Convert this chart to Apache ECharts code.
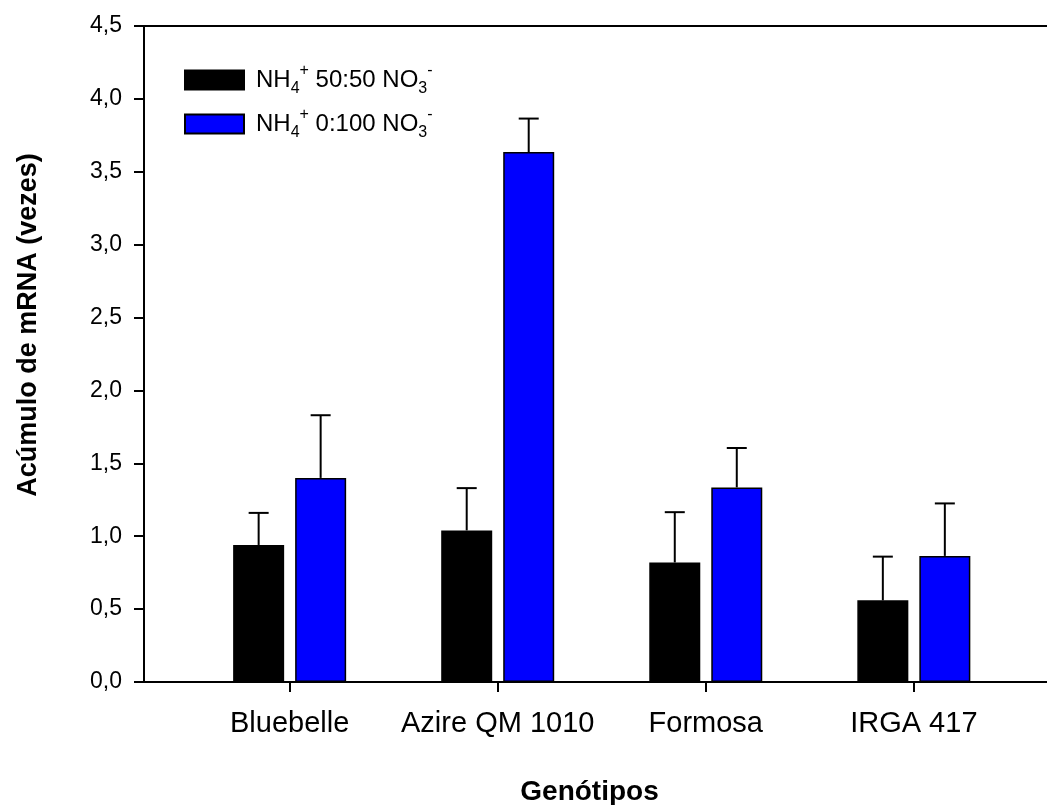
<!DOCTYPE html>
<html>
<head>
<meta charset="utf-8">
<script src="https://cdn.jsdelivr.net/npm/echarts@6/dist/echarts.min.js"></script>
<style>
  html, body { margin: 0; padding: 0; background: #fff; }
  #chart { width: 1047px; height: 805px; }
</style>
</head>
<body>
<div id="chart"></div>
<script>
// Genotypes along the x axis
const genotypes = ['Bluebelle', 'Azire QM 1010', 'Formosa', 'IRGA 417'];

// Series names (legend entries)
const seriesNames = ['NH4+ 50:50 NO3-', 'NH4+ 0:100 NO3-'];

// mRNA accumulation (fold change) and its standard error, per genotype
const ratio5050 = [0.94, 1.04, 0.82, 0.56];
const err5050   = [0.22, 0.29, 0.345, 0.30];
const ratio0100 = [1.40, 3.635, 1.335, 0.865];
const err0100   = [0.43, 0.23, 0.27, 0.36];

// y axis ticks
const yTicks = [0, 0.5, 1, 1.5, 2, 2.5, 3, 3.5, 4, 4.5];

const FONT = '"Liberation Sans", Arial, Helvetica, sans-serif';
const BAR_W = 51;
const BAR_GAP = 11;
const HALF_STEP = (BAR_W + BAR_GAP) / 2;
const CAP_HALF = 10;

const idx = genotypes.map((_, i) => i);

function barData(values) {
  return values.map((v, i) => [i, v]);
}
function errData(values, errs) {
  return values.map((v, i) => [i, v, v + errs[i]]);
}

function errorBars(shift) {
  return function (params, api) {
    const x = api.value(0);
    const base = api.coord([x, api.value(1)]);
    const top = api.coord([x, api.value(2)]);
    const cx = base[0] + shift;
    const style = { stroke: '#000', lineWidth: 2, fill: null };
    return {
      type: 'group',
      children: [
        { type: 'line', shape: { x1: cx, y1: base[1], x2: cx, y2: top[1] }, style: style },
        { type: 'line', shape: { x1: cx - CAP_HALF, y1: top[1], x2: cx + CAP_HALF, y2: top[1] }, style: style }
      ]
    };
  };
}

const chart = echarts.init(document.getElementById('chart'), null, { renderer: 'canvas' });

const X_MIN = -0.7;
const X_MAX = 3.64;

chart.setOption({
  animation: false,
  backgroundColor: '#fff',
  textStyle: { fontFamily: FONT },
  grid: { left: 144, top: 26, right: 0, bottom: 123, show: false, outerBoundsMode: 'none', containLabel: false },
  legend: {
    orient: 'vertical',
    left: 179, top: 58,
    itemWidth: 59, itemHeight: 19, itemGap: 10,
    icon: 'rect',
    data: seriesNames,
    formatter: function (name) {
      const m = name.match(/^NH4\+ (\S+) NO3-$/);
      return '{t|NH}{sub|4}{sup|+}{t| ' + m[1] + ' NO}{sub|3}{sup|-}';
    },
    textStyle: {
      fontFamily: FONT,
      color: '#000',
      padding: [0, 0, 0, 7],
      rich: {
        t: { fontSize: 24, lineHeight: 34, verticalAlign: 'middle', fontFamily: FONT, color: '#000' },
        sub: { fontSize: 16, lineHeight: 16, verticalAlign: 'bottom', fontFamily: FONT, color: '#000' },
        sup: { fontSize: 16, lineHeight: 16, verticalAlign: 'top', fontFamily: FONT, color: '#000' }
      }
    }
  },
  xAxis: [
    {
      type: 'value',
      position: 'bottom',
      min: X_MIN,
      max: X_MAX,
      name: 'Genótipos',
      nameLocation: 'middle',
      nameGap: 96,
      nameTextStyle: { fontFamily: FONT, fontSize: 28, fontWeight: 'bold', color: '#000', padding: [0, 12, 0, 0] },
      splitLine: { show: false },
      axisLine: { show: true, onZero: false, lineStyle: { color: '#000', width: 2 } },
      axisTick: { show: true, inside: false, length: 10, customValues: idx, lineStyle: { color: '#000', width: 2 } },
      axisLabel: {
        customValues: idx,
        formatter: v => genotypes[Math.round(v)],
        fontFamily: FONT, fontSize: 29, color: '#000', margin: 27
      }
    },
    {
      // top frame line
      type: 'value',
      position: 'top',
      min: X_MIN,
      max: X_MAX,
      splitLine: { show: false },
      axisLine: { show: true, onZero: false, lineStyle: { color: '#000', width: 2 } },
      axisTick: { show: false },
      axisLabel: { show: false }
    }
  ],
  yAxis: {
    type: 'value',
    min: 0, max: 4.5, interval: 0.5,
    name: 'Acúmulo de mRNA (vezes)',
    nameLocation: 'middle',
    nameGap: 102,
    nameTextStyle: { fontFamily: FONT, fontSize: 27, fontWeight: 'bold', color: '#000', padding: [0, 0, 0, 58] },
    splitLine: { show: false },
    axisLine: { show: true, onZero: false, lineStyle: { color: '#000', width: 2 } },
    axisTick: { show: true, inside: false, length: 10, lineStyle: { color: '#000', width: 2 } },
    axisLabel: {
      customValues: yTicks,
      formatter: v => v.toFixed(1).replace('.', ','),
      fontFamily: FONT, fontSize: 23, color: '#000', margin: 22
    }
  },
  series: [
    {
      name: seriesNames[0], type: 'bar',
      barWidth: BAR_W, barGap: (BAR_GAP / BAR_W * 100) + '%',
      data: barData(ratio5050),
      itemStyle: { color: '#000000', borderColor: '#000', borderWidth: 1.5 },
      z: 2
    },
    {
      name: seriesNames[1], type: 'bar',
      barWidth: BAR_W, barGap: (BAR_GAP / BAR_W * 100) + '%',
      data: barData(ratio0100),
      itemStyle: { color: '#0000ff', borderColor: '#000', borderWidth: 1.5 },
      z: 2
    },
    {
      type: 'custom', name: 'err5050',
      renderItem: errorBars(-HALF_STEP),
      data: errData(ratio5050, err5050),
      encode: { x: 0, y: [1, 2] },
      z: 1, silent: true
    },
    {
      type: 'custom', name: 'err0100',
      renderItem: errorBars(HALF_STEP),
      data: errData(ratio0100, err0100),
      encode: { x: 0, y: [1, 2] },
      z: 1, silent: true
    }
  ]
});
</script>
</body>
</html>
